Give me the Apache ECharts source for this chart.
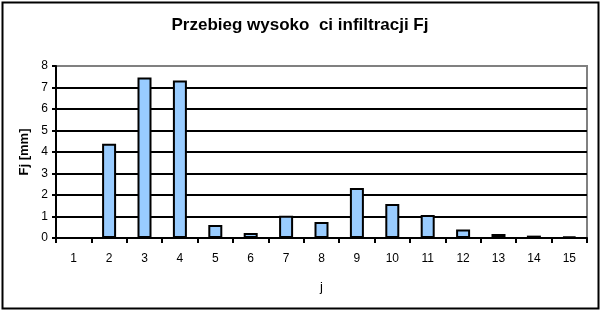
<!DOCTYPE html>
<html><head><meta charset="utf-8">
<script src="https://cdn.jsdelivr.net/npm/echarts@6/dist/echarts.min.js"></script>
<style>html,body{margin:0;padding:0;background:#fff}#c{width:600px;height:310px}</style>
</head><body><div id="c"></div>
<script>
const categories = ['1','2','3','4','5','6','7','8','9','10','11','12','13','14','15'];
const values = [0, 4.38, 7.46, 7.33, 0.6, 0.23, 1.03, 0.75, 2.33, 1.58, 1.07, 0.39, 0.19, 0.11, 0.06];
const yTicks = { min: 0, max: 8, interval: 1 };
const titleText = 'Przebieg wysoko  ci infiltracji Fj';
const xName = 'j';
const yName = 'Fj [mm]';

const chart = echarts.init(document.getElementById('c'), null, {renderer: 'canvas'});
const font = 'Liberation Sans, Arial, sans-serif';
chart.setOption({
  animation: false,
  backgroundColor: '#fff',
  title: { text: titleText, left: 'center', top: 12,
    textStyle: { fontFamily: font, fontSize: 17, fontWeight: 'bold', color: '#000' } },
  grid: { left: 56, right: 13, top: 66, bottom: 72, show: true, borderColor: '#808080', borderWidth: 2, backgroundColor: 'transparent' },
  xAxis: {
    type: 'category', data: categories,
    name: xName, nameLocation: 'middle', nameGap: 43,
    nameTextStyle: { fontFamily: font, fontSize: 13, color: '#000' },
    axisLine: { lineStyle: { color: '#000', width: 2 } },
    axisTick: { show: true, alignWithLabel: false, length: 5, lineStyle: { color: '#000', width: 2 } },
    axisLabel: { fontFamily: font, fontSize: 12, color: '#000', margin: 15 }
  },
  yAxis: {
    type: 'value', min: yTicks.min, max: yTicks.max, interval: yTicks.interval,
    name: yName, nameLocation: 'middle', nameGap: 22, nameRotate: 90,
    nameTextStyle: { fontFamily: font, fontSize: 13, fontWeight: 'bold', color: '#000' },
    axisLine: { show: true, lineStyle: { color: '#000', width: 2 } },
    axisTick: { show: true, length: 4, lineStyle: { color: '#000', width: 2 } },
    axisLabel: { fontFamily: font, fontSize: 12, color: '#000', margin: 8 },
    splitLine: { show: true, showMaxLine: false, lineStyle: { color: '#000', width: 2 } }
  },
  series: [{
    type: 'bar', data: values, barWidth: 14,
    itemStyle: { color: '#99CCFF', borderColor: '#000', borderWidth: 2 }
  }],
  graphic: [{
    type: 'rect', left: 0, top: 0, z: 100,
    shape: { x: 1, y: 1, width: 596, height: 306 },
    style: { fill: 'none', stroke: '#000', lineWidth: 2 }
  }]
});
</script></body></html>
